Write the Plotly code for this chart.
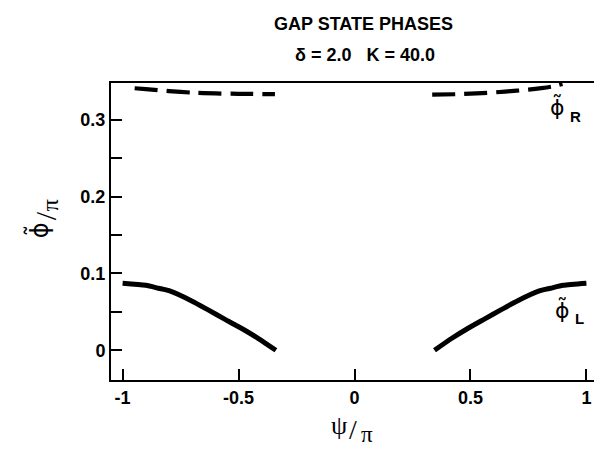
import plotly.graph_objects as go

# phi_L (solid) branches
psiL_left = [-1.0, -0.9, -0.845, -0.8, -0.702, -0.631, -0.56, -0.488, -0.416, -0.339]
phiL_left = [0.0872, 0.0845, 0.0807, 0.0775, 0.0642, 0.0525, 0.0405, 0.0286, 0.0156, 0.0]
psiL_right = [0.345, 0.42, 0.49, 0.56, 0.631, 0.702, 0.8, 0.845, 0.9, 1.0]
phiL_right = [0.0, 0.0156, 0.0286, 0.0405, 0.0525, 0.0642, 0.0775, 0.0807, 0.0845, 0.0872]

# phi_R (dashed) branches
psiR_left = [-0.948, -0.9, -0.8, -0.7, -0.6, -0.5, -0.343]
phiR_left = [0.3410, 0.3398, 0.3372, 0.3353, 0.3342, 0.3337, 0.3333]
psiR_right = [0.335, 0.45, 0.55, 0.65, 0.75, 0.85, 0.897]
phiR_right = [0.3327, 0.3333, 0.3346, 0.3366, 0.3392, 0.3431, 0.3465]

x_tickvals = [-1, -0.5, 0, 0.5, 1]
x_ticktext = ["-1", "-0.5", "0", "0.5", "1"]
y_tickvals = [0, 0.1, 0.2, 0.3]
y_ticktext = ["0", "0.1", "0.2", "0.3"]
y_minorvals = [0.05, 0.15, 0.25]

title1 = "GAP STATE PHASES"
title2 = "δ = 2.0   K = 40.0"

fig = go.Figure()
solid = dict(color="black", width=5, shape="spline", smoothing=0.6)
dashed = dict(color="black", width=4.2, dash="23px,9px", shape="spline", smoothing=0.6)
fig.add_trace(go.Scatter(x=psiL_left, y=phiL_left, mode="lines", line=solid))
fig.add_trace(go.Scatter(x=psiL_right, y=phiL_right, mode="lines", line=solid))
fig.add_trace(go.Scatter(x=psiR_left, y=phiR_left, mode="lines", line=dashed))
fig.add_trace(go.Scatter(x=psiR_right, y=phiR_right, mode="lines", line=dashed))

tickfont = dict(family="Liberation Sans, Arial", size=18, color="black", weight="bold")
fig.update_xaxes(range=[-1.05, 1.05], tickvals=x_tickvals, ticktext=x_ticktext,
                 ticks="inside", ticklen=11, tickwidth=2, tickcolor="black",
                 showline=True, linewidth=2, linecolor="black", mirror=True,
                 showgrid=False, zeroline=False, tickfont=tickfont)
fig.update_yaxes(range=[-0.0387, 0.3478], tickvals=y_tickvals, ticktext=y_ticktext,
                 ticks="inside", ticklen=11, tickwidth=2, tickcolor="black",
                 minor=dict(tickvals=y_minorvals, ticks="inside", ticklen=11, tickwidth=2,
                            tickcolor="black", showgrid=False),
                 showline=True, linewidth=2, linecolor="black", mirror=True,
                 showgrid=False, zeroline=False, tickfont=tickfont)

def px2paper(px, py):
    # plot area: x 103..592, y 75..372 (pixels)
    return (px - 103) / 489.0, (372 - py) / 297.0

def add_text(text, px, py, size, family, angle=0, bold=False):
    xp, yp = px2paper(px, py)
    f = dict(family=family, size=size, color="black")
    if bold:
        f["weight"] = "bold"
    fig.add_annotation(text=text, xref="paper", yref="paper", x=xp, y=yp,
                       showarrow=False, font=f, textangle=angle,
                       xanchor="center", yanchor="middle", borderpad=0)

sans = "Liberation Sans, Arial"
serif = "Liberation Serif, Times New Roman"
phi_font = "DejaVu Sans"

add_text(title1, 357, 16, 18, sans, bold=True)
add_text(title2, 358, 47, 18, sans, bold=True)

# x axis title  psi / pi
add_text("ψ", 332, 417, 26, serif)
add_text("/", 346, 422, 28, serif)
add_text("π", 360, 426, 23, serif)

# y axis title  phi~ / pi (rotated)
add_text("ϕ̃", 30, 222, 24, phi_font, angle=-90)
add_text("/", 37, 208, 30, serif, angle=-90)
add_text("π", 42, 197, 24, serif, angle=-90)

# curve labels
add_text("ϕ̃", 551, 99, 22, phi_font)
add_text("R", 569, 108, 15, sans, bold=True)
add_text("ϕ̃", 556, 301, 22, phi_font)
add_text("L", 573, 310, 15, sans, bold=True)

fig.update_layout(width=602, height=449, showlegend=False,
                  margin=dict(l=103, r=10, t=75, b=77),
                  paper_bgcolor="white", plot_bgcolor="white")
fig.write_html("out.html")
